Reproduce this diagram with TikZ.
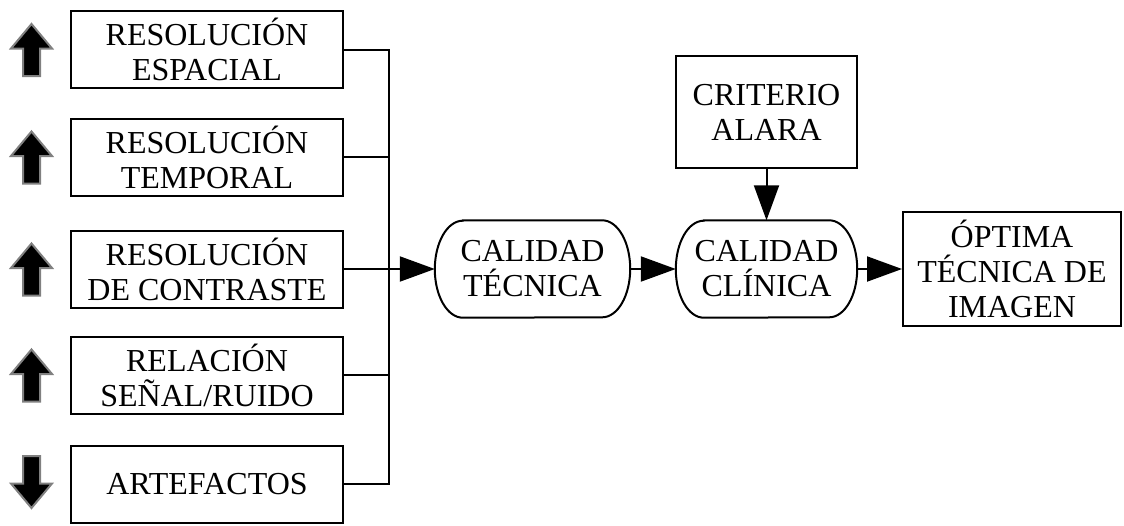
\documentclass[tikz,border=0pt]{standalone}
\usepackage{fontspec}
\setmainfont{Liberation Serif}
\usetikzlibrary{arrows.meta}

\tikzset{
  base/.style={line width=2pt, draw=black},
  label/.style={font=\fontsize{32}{35}\selectfont, align=center, inner sep=0pt},
  factor/.style={base, label, rectangle, minimum width=272pt, minimum height=77pt},
  plainbox/.style={base, label, rectangle},
  stadiumtext/.style={label, rectangle, draw=none},
  link/.style={base},
  flow/.style={base, -{Triangle[length=35pt,width=25pt]}},
  trend/.style={fill=black, draw=black!50, line width=2pt, line join=miter},
  uparrow/.pic={
    \path[trend] (0,25.5) -- (20.5,1) -- (8.5,1) -- (8.5,-26.5)
      -- (-8.5,-26.5) -- (-8.5,1) -- (-20.5,1) -- cycle;
  },
  downarrow/.pic={
    \path[trend] (0,-25.5) -- (20.5,-1) -- (8.5,-1) -- (8.5,26.5)
      -- (-8.5,26.5) -- (-8.5,-1) -- (-20.5,-1) -- cycle;
  }
}

% outline with flat top/bottom and elliptical ends around a named node
\newcommand\stadiumoutline[2]{%
  \draw[base] ([xshift=#2]#1.north west) -- ([xshift=-#2]#1.north east)
    arc[start angle=90, end angle=-90, x radius=#2, y radius=0.5*\stadiumh]
    -- ([xshift=#2]#1.south west)
    arc[start angle=270, end angle=90, x radius=#2, y radius=0.5*\stadiumh]
    -- cycle;}
\newcommand\stadiumh{97pt}

\begin{document}
\begin{tikzpicture}[x=1pt,y=1pt]
\useasboundingbox (0,0) rectangle (1124,-525);

% factor boxes on the left
\node[factor] (b1) at (207,-49.5) {RESOLUCIÓN\\ESPACIAL};
\node[factor] (b2) at (207,-157)  {RESOLUCIÓN\\TEMPORAL};
\node[factor] (b3) at (207,-269)  {RESOLUCIÓN\\DE CONTRASTE};
\node[factor] (b4) at (207,-375)  {RELACIÓN\\SEÑAL/RUIDO};
\node[factor] (b5) at (207,-484)  {ARTEFACTOS};

% trend arrows
\pic at (31.5,-49.5) {uparrow};
\pic at (31.5,-157)  {uparrow};
\pic at (31.5,-269)  {uparrow};
\pic at (31.5,-375)  {uparrow};
\pic at (31.5,-482.5) {downarrow};

% quality stages
\node[stadiumtext, minimum width=195pt, minimum height=97pt] (ct) at (532.5,-269) {CALIDAD\\TÉCNICA};
\node[stadiumtext, minimum width=181pt, minimum height=97pt] (cc) at (766.5,-269) {CALIDAD\\CLÍNICA};
\stadiumoutline{ct}{28pt}
\stadiumoutline{cc}{28pt}

\node[plainbox, minimum width=181pt, minimum height=112pt] (cr) at (766.5,-112) {CRITERIO\\ALARA};
\node[plainbox, minimum width=218pt, minimum height=114pt] (op) at (1012,-269) {ÓPTIMA\\TÉCNICA DE\\IMAGEN};

% collecting bus
\coordinate (bus) at (389,0);
\draw[link] (b1.east) -- (b1.east -| bus) -- (b5.east -| bus) -- (b5.east);
\draw[link] (b2.east) -- (b2.east -| bus);
\draw[link] (b4.east) -- (b4.east -| bus);

% flow arrows
\draw[flow] (b3.east) -- (ct.west);
\draw[flow] (ct.east) -- (cc.west);
\draw[flow] (cc.east) -- (op.west);
\draw[flow] (cr.south) -- (cc.north);
\end{tikzpicture}
\end{document}
